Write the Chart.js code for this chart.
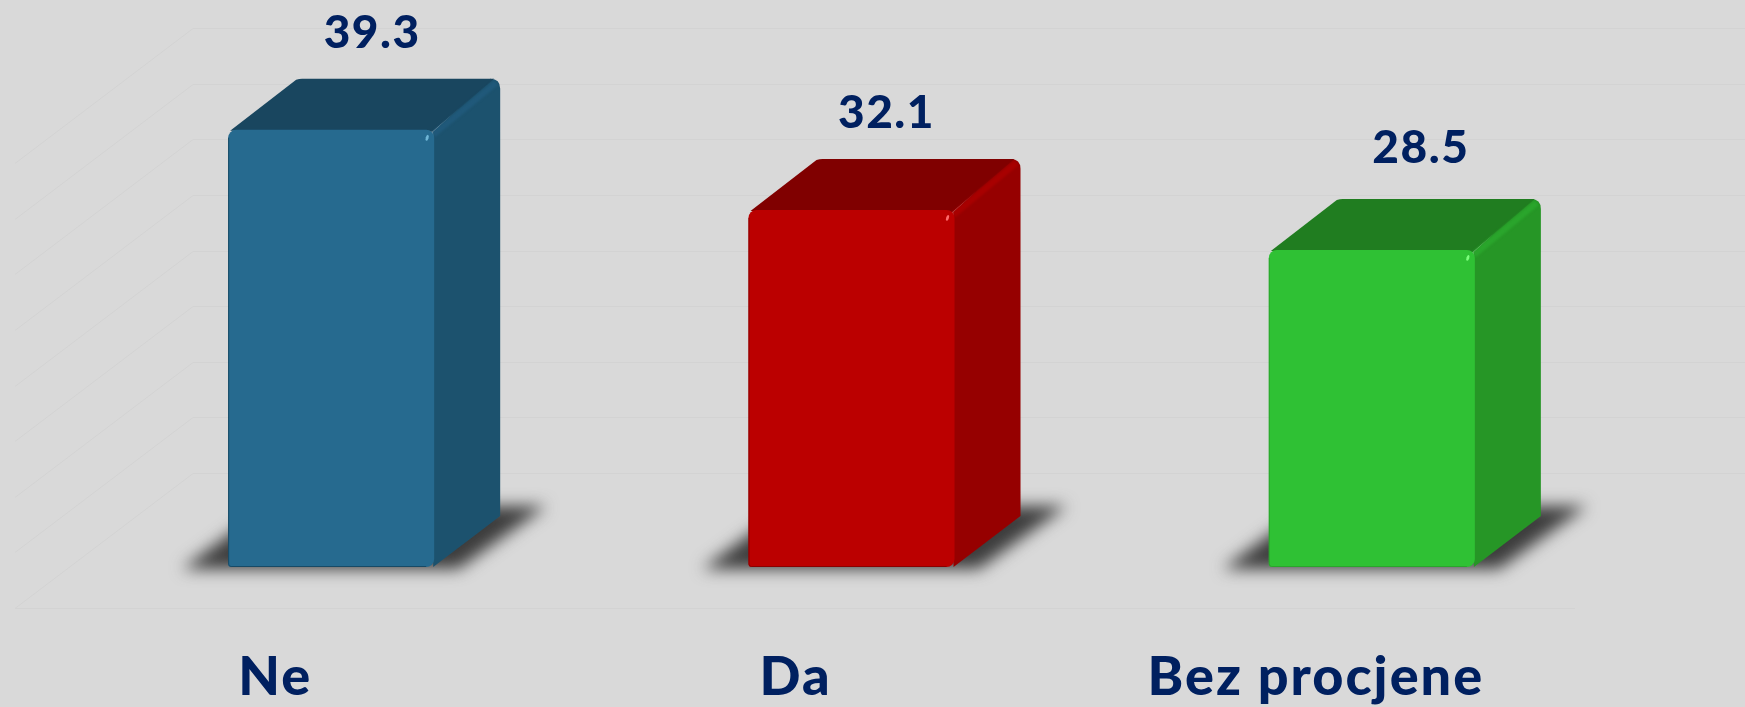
<!DOCTYPE html>
<html><head><meta charset="utf-8">
<style>html,body{margin:0;padding:0;background:#d9d9d9;overflow:hidden}canvas{display:block}</style>
<script src="https://cdn.jsdelivr.net/npm/chart.js@4"></script>
</head><body><div style="width:1745px;height:707px;position:relative"><canvas id="c"></canvas></div>
<script>
const categories = ['Ne', 'Da', 'Bez procjene'];
const values = [39.3, 32.1, 28.5];
const tickValues = [0, 5, 10, 15, 20, 25, 30, 35, 40];
const frontColors = ['#266a8f', '#bb0000', '#2fc134'];
const topColors = ['#19465f', '#800000', '#207d20'];
const sideColors = ['#1c526e', '#960000', '#269626'];
const edgeColors = ['#20597a', '#a80000', '#2aa52c'];
const rimColors = ['#174a66', '#8a0000', '#2aa52c'];
const glintColors = ['#6fb6d6', '#ff6a6a', '#7dff7d'];
const labelNudge = [41, 35, 49];
const textColor = '#002060';
const fontStack = 'Lato, "Open Sans", sans-serif';
const DX = 66, DY = 51;

const scene = {
  id: 'scene',
  beforeDraw(chart) { chart.ctx.letterSpacing = '2px'; },
  beforeDatasetsDraw(chart) {
    const {ctx} = chart, y = chart.scales.y;
    const base = y.getPixelForValue(0);
    ctx.save();
    ctx.strokeStyle = '#d3d3d3'; ctx.lineWidth = 1;
    const wall = -94, gl = 193, fl = 15, gr = 1745;
    tickValues.forEach(v => {
      const py = Math.round(y.getPixelForValue(v) + wall) + .5;
      ctx.beginPath(); ctx.moveTo(fl, py + 135); ctx.lineTo(gl, py); ctx.lineTo(gr, py); ctx.stroke();
    });
    ctx.beginPath(); ctx.moveTo(fl, base + 41.5); ctx.lineTo(1575, base + 41.5); ctx.stroke();
    ctx.restore();
    chart.getDatasetMeta(0).data.forEach((b, i) => {
      const half = b.width / 2, l = b.x - half, r = b.x + half, t = b.y;
      ctx.save();
      ctx.filter = 'blur(8px)';
      ctx.fillStyle = '#3c3c3c';
      ctx.beginPath();
      ctx.moveTo(l - 46, base + 2); ctx.lineTo(r + 24, base + 2);
      ctx.lineTo(r + 112, base - 61); ctx.lineTo(l + 40, base - 61); ctx.closePath(); ctx.fill();
      ctx.restore();
      ctx.save();
      ctx.fillStyle = sideColors[i];
      ctx.beginPath();
      ctx.moveTo(r - 1, t + 2);
      ctx.lineTo(r + DX - 10, t - DY);
      ctx.quadraticCurveTo(r + DX, t - DY, r + DX, t - DY + 10);
      ctx.lineTo(r + DX, base - DY);
      ctx.lineTo(r - 1, base);
      ctx.closePath(); ctx.fill();
      ctx.fillStyle = topColors[i];
      ctx.beginPath();
      ctx.moveTo(l + 2, t + 1);
      ctx.lineTo(l + DX + 2, t - DY + 1);
      ctx.quadraticCurveTo(l + DX + 5, t - DY, l + DX + 8, t - DY);
      ctx.lineTo(r + DX - 6, t - DY);
      ctx.lineTo(r - 2, t + 2);
      ctx.closePath(); ctx.fill();
      ctx.filter = 'blur(1px)';
      ctx.strokeStyle = edgeColors[i]; ctx.lineWidth = 6;
      ctx.beginPath(); ctx.moveTo(r - 1, t + 5); ctx.lineTo(r + DX - 4, t - DY + 4); ctx.stroke();
      ctx.restore();
    });
  },
  afterDatasetsDraw(chart) {
    const {ctx} = chart;
    const base = chart.scales.y.getPixelForValue(0);
    chart.getDatasetMeta(0).data.forEach((b, i) => {
      const l = b.x - b.width / 2, r = b.x + b.width / 2, t = b.y;
      ctx.save();
      ctx.strokeStyle = rimColors[i]; ctx.lineWidth = 1;
      ctx.beginPath(); ctx.moveTo(l + .5, t + 8); ctx.lineTo(l + .5, base - 3); ctx.quadraticCurveTo(l + .5, base - .5, l + 3, base - .5); ctx.lineTo(r - 8, base - .5); ctx.stroke();
      ctx.fillStyle = glintColors[i];
      ctx.beginPath(); ctx.ellipse(r - 7, t + 8, 1.4, 3, .3, 0, 7); ctx.fill();
      ctx.fillStyle = textColor;
      ctx.font = '900 46px ' + fontStack;
      ctx.letterSpacing = '1.5px';
      ctx.textAlign = 'center'; ctx.textBaseline = 'alphabetic';
      ctx.fillText(values[i].toFixed(1), b.x + labelNudge[i], t - (i === 2 ? 87 : 82));
      ctx.restore();
    });
  }
};

new Chart(document.getElementById('c'), {
  type: 'bar',
  data: {labels: categories, datasets: [{
    data: values,
    backgroundColor: frontColors,
    borderWidth: 0,
    borderRadius: {topLeft: 8, topRight: 8, bottomLeft: 3, bottomRight: 8},
    borderSkipped: false,
    barPercentage: 0.396,
    categoryPercentage: 1
  }]},
  options: {
    responsive: true, maintainAspectRatio: false, animation: false,
    layout: {padding: {left: 71, right: 113, top: 122, bottom: 0}},
    plugins: {legend: {display: false}, tooltip: {enabled: false}, title: {display: false}},
    scales: {
      y: {display: false, min: 0, max: 40, grid: {display: false}},
      x: {
        afterFit(s) { s.height = 140; },
        grid: {display: false, drawTicks: false}, border: {display: false},
        ticks: {color: textColor, font: {family: fontStack, weight: '900', size: 54}, padding: 78, labelOffset: -56, maxRotation: 0}
      }
    }
  },
  plugins: [scene]
});
</script></body></html>
